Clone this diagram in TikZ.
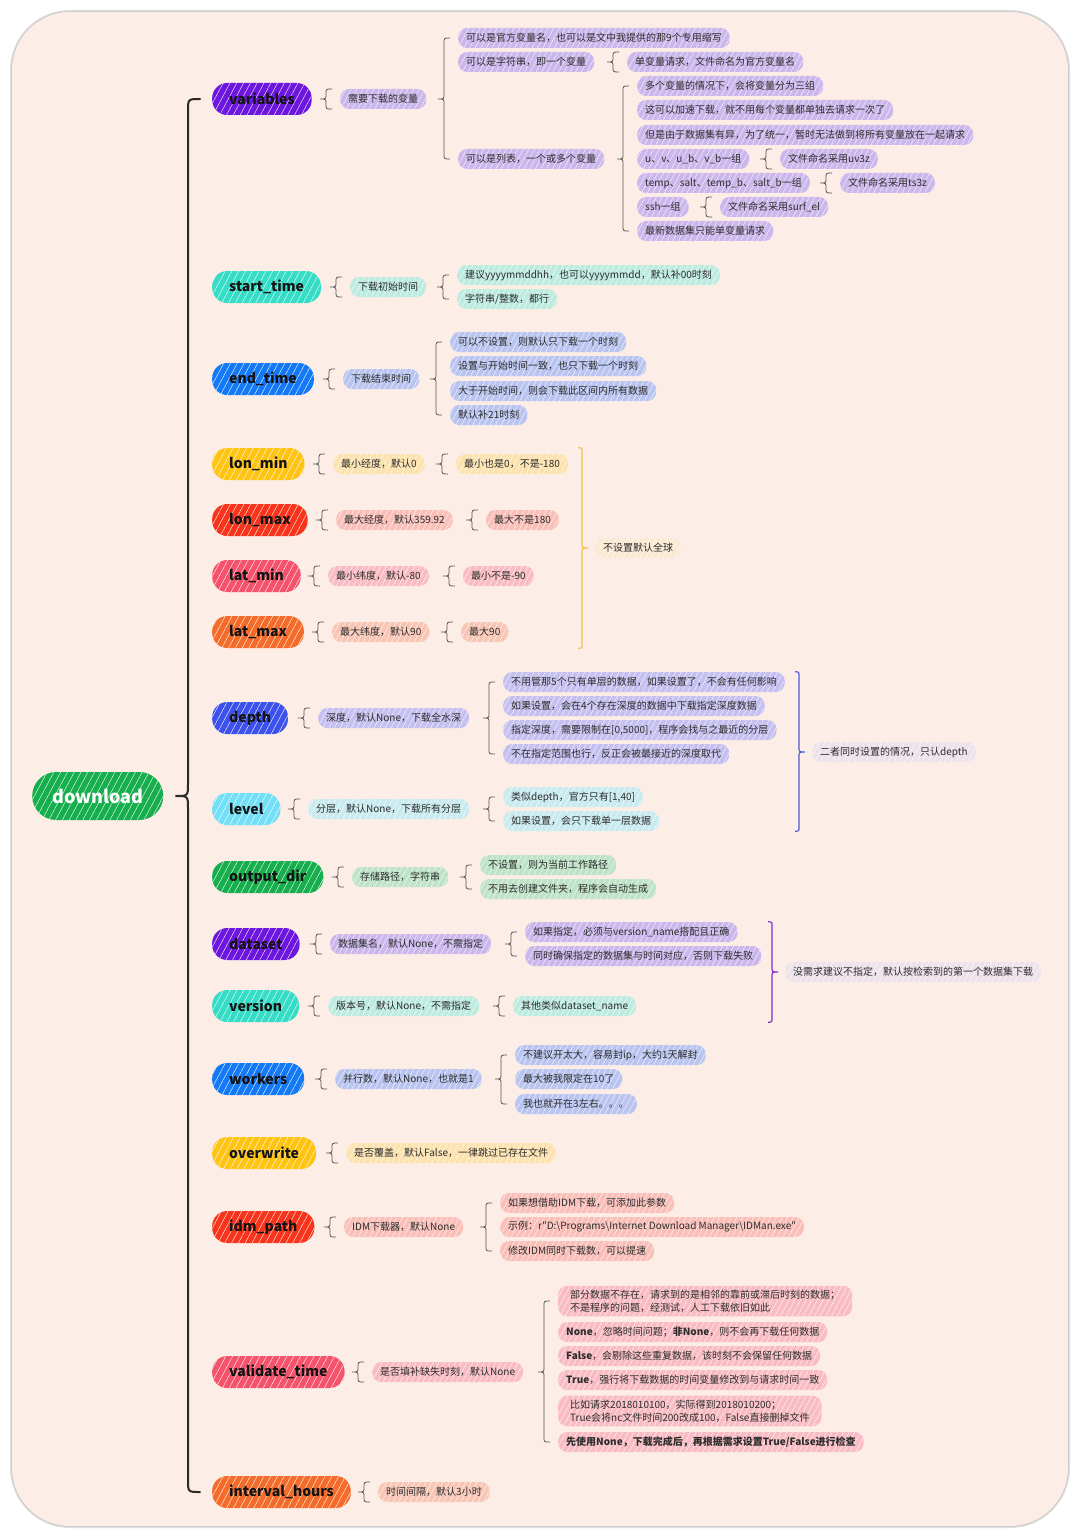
\documentclass[tikz,border=0pt]{standalone}
\usepackage{fontspec}
\setmainfont{Noto Sans CJK SC}[Ligatures=TeXOff]
\usetikzlibrary{calc,patterns.meta}
\definecolor{bgc}{HTML}{FCEEE6}
\definecolor{ink}{HTML}{141414}
\definecolor{leafink}{HTML}{2C2C2C}
\definecolor{bracec}{HTML}{555555}
\definecolor{trunkc}{HTML}{2A2A2A}
\definecolor{cGreen}{HTML}{17AE4E}
\definecolor{cPurple}{HTML}{6C16E0}
\definecolor{cTeal}{HTML}{35DCC6}
\definecolor{cBlue}{HTML}{1479F6}
\definecolor{cYellow}{HTML}{FFC312}
\definecolor{cRed}{HTML}{F8341C}
\definecolor{cPink}{HTML}{F5536B}
\definecolor{cOrange}{HTML}{F56B2A}
\definecolor{cRoyal}{HTML}{3D52EC}
\definecolor{cCyan}{HTML}{72DFF6}
\definecolor{lPurple}{HTML}{CBB7EC}
\definecolor{lTeal}{HTML}{BEEBE0}
\definecolor{lBlue}{HTML}{B9C5F0}
\definecolor{lYellow}{HTML}{FCE2AE}
\definecolor{lRed}{HTML}{F9BFB8}
\definecolor{lPink}{HTML}{F9BCC4}
\definecolor{lOrange}{HTML}{F9C6B5}
\definecolor{lRoyal}{HTML}{C5C0F0}
\definecolor{lCyan}{HTML}{C9EBF0}
\definecolor{lGreen}{HTML}{BEE3C8}
\definecolor{lCream}{HTML}{FAEAD3}
\definecolor{lGrey}{HTML}{EEE2EA}
\definecolor{gYellow}{HTML}{F5C04A}
\definecolor{gBlue}{HTML}{4A5BD9}
\definecolor{gPurple}{HTML}{7B2BD0}
% left brace: parent, first child, last child, extension
\newcommand\lbr[4]{%
  \draw[brc] let \p1=(#2.west), \p2=(#3.west), \p3=(#1.center) in
   (\x1-8pt,\y1+#4) .. controls (\x1-14pt,\y1+#4) .. (\x1-14pt,\y1+#4-5pt)
   -- (\x1-14pt,\y3+5pt) .. controls (\x1-14pt,\y3) .. (\x1-20pt,\y3)
   .. controls (\x1-14pt,\y3) .. (\x1-14pt,\y3-5pt)
   -- (\x1-14pt,\y2-#4+5pt) .. controls (\x1-14pt,\y2-#4) .. (\x1-8pt,\y2-#4);}
% right brace: summary node, top node, bottom node, colour
\newcommand\rbr[4]{%
  \draw[line width=1.2pt, draw=#4] let \p1=(#1.west), \p2=(#2.north), \p3=(#3.south) in
   (\x1-17pt,\y2) .. controls (\x1-13pt,\y2) .. (\x1-13pt,\y2-5pt)
   -- (\x1-13pt,\y1+5pt) .. controls (\x1-13pt,\y1) .. (\x1-7pt,\y1)
   .. controls (\x1-13pt,\y1) .. (\x1-13pt,\y1-5pt)
   -- (\x1-13pt,\y3+5pt) .. controls (\x1-13pt,\y3) .. (\x1-17pt,\y3);}
\begin{document}
\begin{tikzpicture}[x=1pt,y=-1pt,
  mainnode/.style={anchor=west, rounded corners=15pt, minimum height=32pt,
    inner xsep=17pt, inner ysep=2pt, font=\fontsize{14}{16}\selectfont\bfseries, text=ink,
    postaction={pattern={Lines[angle=62,distance=6pt,line width=0.4pt]}, pattern color=white, fill opacity=0.14}},
  leaf/.style={anchor=west, rounded corners=9pt, minimum height=20pt,
    inner xsep=8pt, inner ysep=2pt, font=\fontsize{10}{12}\selectfont, text=leafink,
    postaction={pattern={Lines[angle=62,distance=5pt,line width=0.35pt]}, pattern color=white, fill opacity=0.16}},
  twoline/.style={leaf, align=left, inner xsep=12pt, inner ysep=4pt, font=\fontsize{10}{13}\selectfont},
  brc/.style={draw=bracec, line width=0.8pt},
  trunk/.style={draw=trunkc, line width=2pt, line cap=round}]
\useasboundingbox (0,0) rectangle (1080,1538);
\fill[white] (0,0) rectangle (1080,1538);
\draw[gray!25, line width=4pt, rounded corners=58pt] (12,12) rectangle (1068,1526);
\draw[gray!45, line width=1.5pt, rounded corners=58pt] (12,12) rectangle (1068,1526);
\fill[bgc, rounded corners=58pt] (12,12) rectangle (1068,1526);

% root
\node[anchor=west, rounded corners=24pt, minimum height=48pt, inner xsep=20pt, fill=cGreen,
  font=\fontsize{18}{20}\selectfont\bfseries, text=white,
  postaction={pattern={Lines[angle=62,distance=6pt,line width=0.4pt]}, pattern color=white, fill opacity=0.14}]
  (download) at (32,796) {download};

% variables
\node[mainnode, fill=cPurple] (variables) at (212,99) {variables};
\node[leaf, fill=lPurple] (v0) at (340,99) {需要下载的变量};
\node[leaf, fill=lPurple] (v1) at (458,38) {可以是官方变量名，也可以是文中我提供的那9个专用缩写};
\node[leaf, fill=lPurple] (v2) at (458,62) {可以是字符串，即一个变量};
\node[leaf, fill=lPurple] (v2a) at (627,62) {单变量请求，文件命名为官方变量名};
\node[leaf, fill=lPurple] (v3) at (458,159) {可以是列表，一个或多个变量};
\node[leaf, fill=lPurple] (v3a) at (637,86) {多个变量的情况下，会将变量分为三组};
\node[leaf, fill=lPurple] (v3b) at (637,110) {这可以加速下载，就不用每个变量都单独去请求一次了};
\node[leaf, fill=lPurple] (v3c) at (637,135) {但是由于数据集有异，为了统一，暂时无法做到将所有变量放在一起请求};
\node[leaf, fill=lPurple] (v3d) at (637,159) {u、v、u\_b、v\_b一组};
\node[leaf, fill=lPurple] (v3d1) at (780,159) {文件命名采用uv3z};
\node[leaf, fill=lPurple] (v3e) at (637,183) {temp、salt、temp\_b、salt\_b一组};
\node[leaf, fill=lPurple] (v3e1) at (840,183) {文件命名采用ts3z};
\node[leaf, fill=lPurple] (v3f) at (637,207) {ssh一组};
\node[leaf, fill=lPurple] (v3f1) at (720,207) {文件命名采用surf\_el};
\node[leaf, fill=lPurple] (v3g) at (637,231) {最新数据集只能单变量请求};
\lbr{variables}{v0}{v0}{10pt}
\lbr{v0}{v1}{v3}{0pt}
\lbr{v2}{v2a}{v2a}{10pt}
\lbr{v3}{v3a}{v3g}{0pt}
\lbr{v3d}{v3d1}{v3d1}{10pt}
\lbr{v3e}{v3e1}{v3e1}{10pt}
\lbr{v3f}{v3f1}{v3f1}{10pt}

% start_time
\node[mainnode, fill=cTeal] (st) at (212,287) {start\_time};
\node[leaf, fill=lTeal] (st0) at (350,287) {下载初始时间};
\node[leaf, fill=lTeal] (st1) at (457,275) {建议yyyymmddhh，也可以yyyymmdd，默认补00时刻};
\node[leaf, fill=lTeal] (st2) at (457,299) {字符串/整数，都行};
\lbr{st}{st0}{st0}{10pt}
\lbr{st0}{st1}{st2}{0pt}

% end_time
\node[mainnode, fill=cBlue] (et) at (212,379) {end\_time};
\node[leaf, fill=lBlue] (et0) at (343,379) {下载结束时间};
\node[leaf, fill=lBlue] (et1) at (450,342) {可以不设置，则默认只下载一个时刻};
\node[leaf, fill=lBlue] (et2) at (450,366) {设置与开始时间一致，也只下载一个时刻};
\node[leaf, fill=lBlue] (et3) at (450,391) {大于开始时间，则会下载此区间内所有数据};
\node[leaf, fill=lBlue] (et4) at (450,415) {默认补21时刻};
\lbr{et}{et0}{et0}{10pt}
\lbr{et0}{et1}{et4}{0pt}

% lon / lat
\node[mainnode, fill=cYellow] (lonmin) at (212,464) {lon\_min};
\node[leaf, fill=lYellow] (lonmin0) at (333,464) {最小经度，默认0};
\node[leaf, fill=lYellow] (lonmin1) at (456,464) {最小也是0，不是-180};
\lbr{lonmin}{lonmin0}{lonmin0}{10pt}
\lbr{lonmin0}{lonmin1}{lonmin1}{10pt}
\node[mainnode, fill=cRed] (lonmax) at (212,520) {lon\_max};
\node[leaf, fill=lRed] (lonmax0) at (336,520) {最大经度，默认359.92};
\node[leaf, fill=lRed] (lonmax1) at (486,520) {最大不是180};
\lbr{lonmax}{lonmax0}{lonmax0}{10pt}
\lbr{lonmax0}{lonmax1}{lonmax1}{10pt}
\node[mainnode, fill=cPink] (latmin) at (212,576) {lat\_min};
\node[leaf, fill=lPink] (latmin0) at (328,576) {最小纬度，默认-80};
\node[leaf, fill=lPink] (latmin1) at (463,576) {最小不是-90};
\lbr{latmin}{latmin0}{latmin0}{10pt}
\lbr{latmin0}{latmin1}{latmin1}{10pt}
\node[mainnode, fill=cOrange] (latmax) at (212,632) {lat\_max};
\node[leaf, fill=lOrange] (latmax0) at (332,632) {最大纬度，默认90};
\node[leaf, fill=lOrange] (latmax1) at (461,632) {最大90};
\lbr{latmax}{latmax0}{latmax0}{10pt}
\lbr{latmax0}{latmax1}{latmax1}{10pt}
\node[leaf, fill=lCream] (globe) at (595,548) {不设置默认全球};
\rbr{globe}{lonmin}{latmax}{gYellow}

% depth / level
\node[mainnode, fill=cRoyal] (depth) at (212,718) {depth};
\node[leaf, fill=lRoyal] (depth0) at (318,718) {深度，默认None，下载全水深};
\node[leaf, fill=lRoyal] (depth1) at (503,682) {不用管那5个只有单层的数据，如果设置了，不会有任何影响};
\node[leaf, fill=lRoyal] (depth2) at (503,706) {如果设置，会在4个存在深度的数据中下载指定深度数据};
\node[leaf, fill=lRoyal] (depth3) at (503,730) {指定深度，需要限制在[0,5000]，程序会找与之最近的分层};
\node[leaf, fill=lRoyal] (depth4) at (503,754) {不在指定范围也行，反正会被最接近的深度取代};
\lbr{depth}{depth0}{depth0}{10pt}
\lbr{depth0}{depth1}{depth4}{0pt}
\node[mainnode, fill=cCyan] (level) at (212,809) {level};
\node[leaf, fill=lCyan] (level0) at (308,809) {分层，默认None，下载所有分层};
\node[leaf, fill=lCyan] (level1) at (503,797) {类似depth，官方只有[1,40]};
\node[leaf, fill=lCyan] (level2) at (503,821) {如果设置，会只下载单一层数据};
\lbr{level}{level0}{level0}{10pt}
\lbr{level0}{level1}{level2}{0pt}
\node[leaf, fill=lGrey] (both) at (812,752) {二者同时设置的情况，只认depth};
\rbr{both}{depth1}{level2}{gBlue}

% output_dir
\node[mainnode, fill=cGreen] (outdir) at (212,877) {output\_dir};
\node[leaf, fill=lGreen] (outdir0) at (352,877) {存储路径，字符串};
\node[leaf, fill=lGreen] (outdir1) at (480,865) {不设置，则为当前工作路径};
\node[leaf, fill=lGreen] (outdir2) at (480,889) {不用去创建文件夹，程序会自动生成};
\lbr{outdir}{outdir0}{outdir0}{10pt}
\lbr{outdir0}{outdir1}{outdir2}{0pt}

% dataset / version
\node[mainnode, fill=cPurple] (dataset) at (212,944) {dataset};
\node[leaf, fill=lPurple] (dataset0) at (330,944) {数据集名，默认None，不需指定};
\node[leaf, fill=lPurple] (dataset1) at (525,932) {如果指定，必须与version\_name搭配且正确};
\node[leaf, fill=lPurple] (dataset2) at (525,956) {同时确保指定的数据集与时间对应，否则下载失败};
\lbr{dataset}{dataset0}{dataset0}{10pt}
\lbr{dataset0}{dataset1}{dataset2}{0pt}
\node[mainnode, fill=cTeal] (version) at (212,1006) {version};
\node[leaf, fill=lTeal] (version0) at (328,1006) {版本号，默认None，不需指定};
\node[leaf, fill=lTeal] (version1) at (513,1006) {其他类似dataset\_name};
\lbr{version}{version0}{version0}{10pt}
\lbr{version0}{version1}{version1}{10pt}
\node[leaf, fill=lGrey] (firstds) at (785,972) {没需求建议不指定，默认按检索到的第一个数据集下载};
\rbr{firstds}{dataset1}{version}{gPurple}

% workers
\node[mainnode, fill=cBlue] (workers) at (212,1079) {workers};
\node[leaf, fill=lBlue] (workers0) at (335,1079) {并行数，默认None，也就是1};
\node[leaf, fill=lBlue] (workers1) at (515,1055) {不建议开太大，容易封ip，大约1天解封};
\node[leaf, fill=lBlue] (workers2) at (515,1079) {最大被我限定在10了};
\node[leaf, fill=lBlue] (workers3) at (515,1104) {我也就开在3左右。。。};
\lbr{workers}{workers0}{workers0}{10pt}
\lbr{workers0}{workers1}{workers3}{0pt}

% overwrite
\node[mainnode, fill=cYellow] (overwrite) at (212,1153) {overwrite};
\node[leaf, fill=lYellow] (overwrite0) at (346,1153) {是否覆盖，默认False，一律跳过已存在文件};
\lbr{overwrite}{overwrite0}{overwrite0}{10pt}

% idm_path
\node[mainnode, fill=cRed] (idm) at (212,1227) {idm\_path};
\node[leaf, fill=lRed] (idm0) at (344,1227) {IDM下载器，默认None};
\node[leaf, fill=lRed] (idm1) at (500,1203) {如果想借助IDM下载，可添加此参数};
\node[leaf, fill=lRed] (idm2) at (500,1227) {示例：r"D:\textbackslash Programs\textbackslash Internet Download Manager\textbackslash IDMan.exe"};
\node[leaf, fill=lRed] (idm3) at (500,1251) {修改IDM同时下载数，可以提速};
\lbr{idm}{idm0}{idm0}{10pt}
\lbr{idm0}{idm1}{idm3}{0pt}

% validate_time
\node[mainnode, fill=cPink] (valid) at (212,1372) {validate\_time};
\node[leaf, fill=lPink] (valid0) at (372,1372) {是否填补缺失时刻，默认None};
\node[twoline, fill=lPink] (valid1) at (558,1301) {部分数据不存在，请求到的是相邻的靠前或滞后时刻的数据；\\不是程序的问题，经测试，人工下载依旧如此};
\node[leaf, fill=lPink] (valid2) at (558,1332) {{\bfseries None}，忽略时间问题；{\bfseries 非None}，则不会再下载任何数据};
\node[leaf, fill=lPink] (valid3) at (558,1356) {{\bfseries False}，会剔除这些重复数据，该时刻不会保留任何数据};
\node[leaf, fill=lPink] (valid4) at (558,1380) {{\bfseries True}，强行将下载数据的时间变量修改到与请求时间一致};
\node[twoline, fill=lPink] (valid5) at (558,1411) {比如请求2018010100，实际得到2018010200；\\True会将nc文件时间200改成100，False直接删掉文件};
\node[leaf, fill=lPink, font=\fontsize{10}{12}\selectfont\bfseries] (valid6) at (558,1442) {先使用None，下载完成后，再根据需求设置True/False进行检查};
\lbr{valid}{valid0}{valid0}{10pt}
\lbr{valid0}{valid1}{valid6}{0pt}

% interval_hours
\node[mainnode, fill=cOrange] (interval) at (212,1492) {interval\_hours};
\node[leaf, fill=lOrange] (interval0) at (378,1492) {时间间隔，默认3小时};
\lbr{interval}{interval0}{interval0}{10pt}

% trunk
\draw[trunk] let \p1=(variables.west), \p2=(interval.west), \p3=(download.east) in
  (\x1-12pt,\y1) .. controls (\x1-24pt,\y1) .. (\x1-24pt,\y1-12pt)
  -- (\x1-24pt,\y3+12pt) .. controls (\x1-24pt,\y3) .. (\x3+12pt,\y3)
  .. controls (\x1-24pt,\y3) .. (\x1-24pt,\y3-12pt)
  -- (\x1-24pt,\y2+12pt) .. controls (\x1-24pt,\y2) .. (\x1-12pt,\y2);
\end{tikzpicture}
\end{document}
